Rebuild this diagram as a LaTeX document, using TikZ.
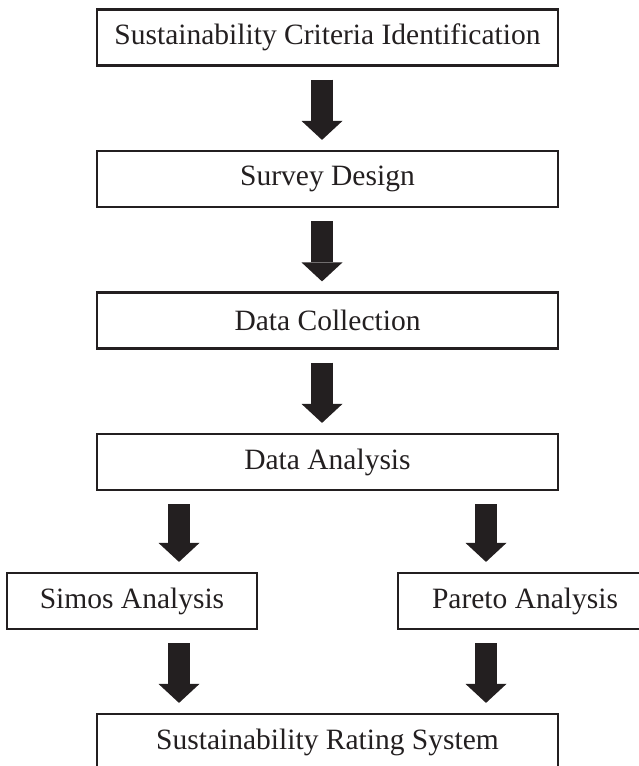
\documentclass[tikz,border=0pt]{standalone}
\usepackage{fontspec}
\setmainfont{Liberation Serif}
\usetikzlibrary{arrows.meta}
\definecolor{ink}{HTML}{231F20}
\begin{document}
\begin{tikzpicture}[x=1pt,y=-1pt,
  box/.style={draw=ink, line width=2.2pt, text=ink, minimum height=56pt, inner sep=0pt,
    font=\fontsize{29.5}{34}\selectfont},
  wide/.style={box, minimum width=461pt},
  blockarrow/.style={draw=ink, line width=22pt,
    -{Triangle[width=41pt,length=19pt,line width=0pt]},
    shorten <=13pt, shorten >=10pt}]
\useasboundingbox (0,0) rectangle (639,766);
\node[wide] (b1) at (327.5,37.5) {Sustainability Criteria Identification};
\node[wide] (b2) at (327.5,179) {Survey Design};
\node[wide] (b3) at (327.5,320.5) {Data Collection};
\node[wide] (b4) at (327.5,462) {Data Analysis};
\node[box, minimum width=250pt] (s) at (132,601) {Simos Analysis};
\node[box, minimum width=254pt] (p) at (525,601) {Pareto Analysis};
\node[wide] (r) at (327.5,742) {Sustainability Rating System};
\coordinate (cm) at (322,0);
\coordinate (cl) at (179,0);
\coordinate (cr) at (486,0);
\draw[blockarrow] (b1.south -| cm) -- (b2.north -| cm);
\draw[blockarrow] (b2.south -| cm) -- (b3.north -| cm);
\draw[blockarrow] (b3.south -| cm) -- (b4.north -| cm);
\draw[blockarrow] (b4.south -| cl) -- (s.north -| cl);
\draw[blockarrow] (b4.south -| cr) -- (p.north -| cr);
\draw[blockarrow] (s.south -| cl) -- (r.north -| cl);
\draw[blockarrow] (p.south -| cr) -- (r.north -| cr);
\end{tikzpicture}
\end{document}
